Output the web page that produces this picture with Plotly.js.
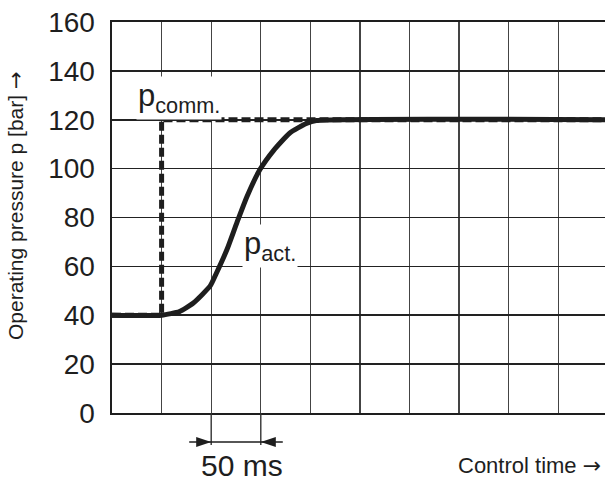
<!DOCTYPE html>
<html>
<head>
<meta charset="utf-8">
<script src="https://cdn.plot.ly/plotly-3.0.1.min.js"></script>
<style>
  html, body { margin: 0; padding: 0; background: #fff; }
  #chart { width: 605px; height: 479px; }
</style>
</head>
<body>
<div id="chart"></div>
<script>
// Control time in ms and the measured (actual) operating pressure in bar
const timeMs = [0, 50, 68, 82, 99, 105, 116, 126, 136, 149, 163, 179, 196, 206, 497];
const pAct   = [40, 40, 41.5, 45, 52, 57, 67, 78, 88.5, 99.5, 107.5, 114.5, 118.5, 119.7, 120];

// Commanded pressure: step from 40 to 120 bar at 50 ms
const commTime = [0, 50, 50, 497];
const pComm    = [40, 40, 120, 120];

// Axis ticks
const yTicks = [0, 20, 40, 60, 80, 100, 120, 140, 160];
const xRange = [0, 497];
const yRange = [0, 160];

// Dimension marker for one grid interval
const spanStart = 100;
const spanEnd = 150;
const spanLabel = '50 ms';

const FONT = '"Liberation Sans", Arial, Helvetica, sans-serif';
const INK = '#1e1e1e';
const ARROW = '<span style="font-family:DejaVu Sans">→</span>';

const W = 605, H = 479;
const margin = { l: 112, r: 0, t: 22, b: 66 };
const plotW = W - margin.l - margin.r;
const plotH = H - margin.t - margin.b;
const msPerPx = (xRange[1] - xRange[0]) / plotW;
const pxY = px => -px / plotH;          // pixels below the x axis -> paper y

const traces = [
  {
    x: commTime, y: pComm, type: 'scatter', mode: 'lines',
    line: { color: INK, width: 5, dash: '9px,4px' },
    hoverinfo: 'skip'
  },
  {
    x: timeMs, y: pAct, type: 'scatter', mode: 'lines',
    line: { color: INK, width: 5, shape: 'spline', smoothing: 0.5 },
    hoverinfo: 'skip'
  }
];

const dimY = pxY(29);
const headLen = 15 * msPerPx;
const headHalf = 5 / plotH;
const tailLen = 22 * msPerPx;

const shapes = [
  // grid lines extended below the axis to bound the interval
  { type: 'line', xref: 'x', yref: 'paper', x0: spanStart, x1: spanStart, y0: 0, y1: pxY(32),
    line: { color: '#333', width: 1.4 } },
  { type: 'line', xref: 'x', yref: 'paper', x0: spanEnd, x1: spanEnd, y0: 0, y1: pxY(32),
    line: { color: '#333', width: 1.4 } },
  // dimension line
  { type: 'line', xref: 'x', yref: 'paper', x0: spanStart - tailLen, x1: spanEnd + tailLen,
    y0: dimY, y1: dimY, line: { color: INK, width: 1.4 } },
  // arrowheads pointing inward
  { type: 'path', xref: 'x', yref: 'paper', fillcolor: INK, line: { width: 0 },
    path: `M ${spanStart} ${dimY} L ${spanStart - headLen} ${dimY + headHalf} L ${spanStart - headLen} ${dimY - headHalf} Z` },
  { type: 'path', xref: 'x', yref: 'paper', fillcolor: INK, line: { width: 0 },
    path: `M ${spanEnd} ${dimY} L ${spanEnd + headLen} ${dimY + headHalf} L ${spanEnd + headLen} ${dimY - headHalf} Z` }
];

const annotations = [
  {
    text: 'p<sub>comm.</sub>', xref: 'x', yref: 'y', x: 67.5, y: 129,
    xanchor: 'center', yanchor: 'middle', showarrow: false,
    bgcolor: '#fff', borderpad: 1,
    font: { family: FONT, size: 31, color: INK }
  },
  {
    text: 'p<sub>act.</sub>', xref: 'x', yref: 'y', x: 159, y: 68.5,
    xanchor: 'center', yanchor: 'middle', showarrow: false,
    bgcolor: '#fff', borderpad: 1,
    font: { family: FONT, size: 31, color: INK }
  },
  {
    text: spanLabel, xref: 'x', yref: 'paper', x: (spanStart + spanEnd) / 2, xshift: 6,
    y: pxY(52), xanchor: 'center', yanchor: 'middle', showarrow: false,
    font: { family: FONT, size: 30, color: INK }
  },
  {
    text: 'Control time ' + ARROW, xref: 'paper', yref: 'paper',
    x: (529 - margin.l) / plotW, y: pxY(52), xanchor: 'center', yanchor: 'middle',
    showarrow: false, font: { family: FONT, size: 22, color: INK }
  },
  {
    text: 'Operating pressure p [bar] ' + ARROW, xref: 'paper', yref: 'paper',
    x: (16 - margin.l) / plotW, y: (margin.t + plotH - 206) / plotH,
    xanchor: 'center', yanchor: 'middle', textangle: -90, showarrow: false,
    font: { family: FONT, size: 21, color: INK }
  }
];

const layout = {
  width: W, height: H,
  margin: margin,
  paper_bgcolor: '#fff', plot_bgcolor: '#fff',
  showlegend: false,
  font: { family: FONT, color: INK },
  xaxis: {
    range: xRange, tick0: 0, dtick: 50, showticklabels: false, ticks: '',
    showgrid: true, gridcolor: '#444', gridwidth: 1.4, zeroline: false,
    showline: true, linecolor: INK, linewidth: 2, mirror: true
  },
  yaxis: {
    range: yRange, tickvals: yTicks, ticktext: yTicks.map(String), ticks: '',
    ticklabelstandoff: 9,
    tickfont: { family: FONT, size: 28, color: INK },
    showgrid: true, gridcolor: '#222', gridwidth: 1.7, zeroline: false,
    showline: true, linecolor: INK, linewidth: 2.5
  },
  shapes: shapes,
  annotations: annotations
};

Plotly.newPlot('chart', traces, layout, { staticPlot: true, displayModeBar: false });
</script>
</body>
</html>
